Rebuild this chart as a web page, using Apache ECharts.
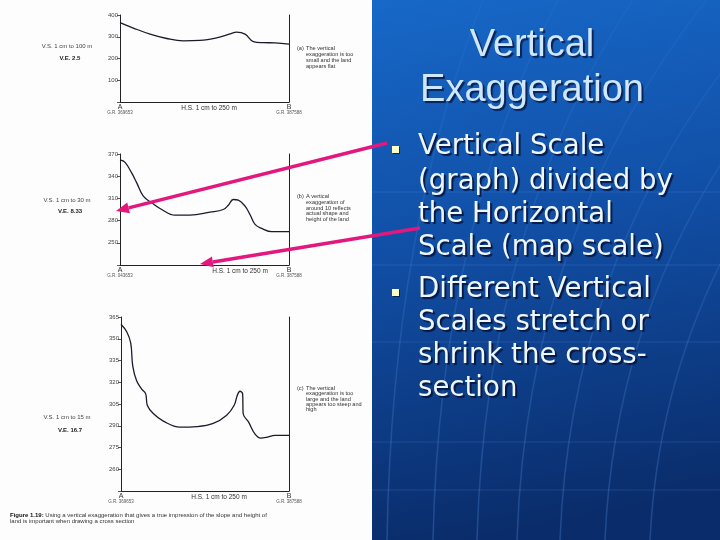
<!DOCTYPE html>
<html><head><meta charset="utf-8">
<script src="https://cdn.jsdelivr.net/npm/echarts@6/dist/echarts.min.js"></script>
<style>html,body{margin:0;padding:0;background:#fff}#c{width:720px;height:540px}</style>
</head><body><div id="c"></div>
<script>
// ---- data (distance A->B in % ; height in m) ----
const distA = [0, 7.9, 17.8, 27.6, 37.5, 47.3, 57.2, 65.1, 69, 74, 78.9, 84.8, 91.7, 100];
const heightA = [365, 340, 312, 292, 281, 283, 295, 313, 321, 312, 278, 273, 272, 266];
const distB = [0, 3, 6.9, 9.9, 13.8, 18.8, 24.7, 32.5, 41.4, 53.3, 61.1, 64.1, 67, 70, 74, 76.9, 79.9, 83.8, 89.8, 100];
const heightB = [362, 358.7, 344.4, 331, 313, 304, 295, 287.4, 287.4, 291.4, 295, 300.8, 308.5, 307.6, 299.5, 288.3, 274.8, 269.5, 265, 265];
const distC = [0, 3.4, 5.8, 7, 9.3, 12.3, 14.7, 15.7, 19.2, 25.2, 35.1, 45.1, 54.9, 62.9, 67.3, 69.2, 70.8, 72.4, 72.7, 75.8, 79.8, 83.2, 86.7, 91.7, 100];
const heightC = [360, 354.8, 347, 331.1, 321, 315.3, 312, 304, 298.4, 293.2, 289, 289.4, 291.6, 297.3, 304, 310.8, 313.8, 312, 298.4, 292.8, 284.2, 281.5, 282, 283.3, 283.3];
const ticksA = [0, 400, 100];   // min, max, interval
const ticksB = [220, 370, 30];
const ticksC = [245, 365, 15];
const vScales = ['V.S. 1 cm to 100 m', 'V.S. 1 cm to 30 m', 'V.S. 1 cm to 15 m'];
const vExag = ['V.E. 2.5', 'V.E. 8.33', 'V.E. 16.7'];
const hScale = 'H.S. 1 cm to 250 m';
const notes = [
  ['(a)', 'The vertical\nexaggeration is too\nsmall and the land\nappears flat'],
  ['(b)', 'A vertical\nexaggeration of\naround 10 reflects\nactual shape and\nheight of the land'],
  ['(c)', 'The vertical\nexaggeration is too\nlarge and the land\nappears too steep and\nhigh']
];
const gridRefs = [['G.R. 369653', 'G.R. 387588'], ['G.R. 043653', 'G.R. 387588'], ['G.R. 369653', 'G.R. 387588']];
const titleLines = ['Vertical', 'Exaggeration'];
const bullet1 = ['Vertical Scale', '(graph) divided by', 'the Horizontal', 'Scale (map scale)'];
const bullet2 = ['Different Vertical', 'Scales stretch or', 'shrink the cross-', 'section'];
const caption1 = 'Using a vertical exaggeration that gives a true impression of the slope and height of';
const caption2 = 'land is important when drawing a cross section';

// ---- layout ----
const grids = [
  {left: 120, top: 15, width: 169, height: 87},
  {left: 120, top: 154, width: 169, height: 111},
  {left: 121, top: 317, width: 168, height: 174}
];
const ticks = [ticksA, ticksB, ticksC];
const series = [[distA, heightA], [distB, heightB], [distC, heightC]];
const axisCol = '#222';
const labelFont = 'Liberation Sans';

const xAxes = [], yAxes = [], ser = [];
grids.forEach((g, i) => {
  xAxes.push({type: 'value', gridIndex: i, min: 0, max: 100,
    axisLine: {show: true, onZero: false, lineStyle: {color: axisCol, width: 1}},
    axisTick: {show: false}, axisLabel: {show: false}, splitLine: {show: false}});
  const [mn, mx, iv] = ticks[i];
  yAxes.push({type: 'value', gridIndex: i, min: mn, max: mx, interval: iv, position: 'left',
    axisLine: {show: true, lineStyle: {color: axisCol, width: 1}},
    axisTick: {show: true, inside: false, length: 3, lineStyle: {color: '#555'}},
    axisLabel: {fontSize: 6, color: '#444', margin: 2, fontFamily: labelFont,
      formatter: v => (v === mn ? '' : String(v))},
    splitLine: {show: false}});
  yAxes.push({type: 'value', gridIndex: i, min: mn, max: mx, position: 'right',
    axisLine: {show: true, lineStyle: {color: axisCol, width: 1}},
    axisTick: {show: false}, axisLabel: {show: false}, splitLine: {show: false}});
  const [xs, ys] = series[i];
  ser.push({type: 'line', xAxisIndex: i, yAxisIndex: i * 2, showSymbol: false,
    smooth: 0.4,
    lineStyle: {color: '#1b1b2b', width: 1.3},
    data: xs.map((x, k) => [x, ys[k]])});
});

// ---- graphics (text, panel, arrows) ----
const G = [];
const small = (txt, x, y, size, opts = {}) => G.push({type: 'text', z: 10, style: {
  text: txt, x, y, font: `${opts.bold ? 'bold ' : ''}${size}px "${labelFont}"`, fill: opts.fill || '#333',
  align: opts.align || 'left', verticalAlign: opts.va || 'middle', lineHeight: opts.lh || size}});

const vsY = [[46, 58], [200, 211], [417, 430]];
const noteY = [46, 194, 386];
const noteLH = [5.8, 5.6, 5.2];
const axisBottom = grids.map(g => g.top + g.height);
const hsX = [209, 240, 219];
grids.forEach((g, i) => {
  small(vScales[i], 67, vsY[i][0], 6, {align: 'center', fill: '#444'});
  small(vExag[i], 70, vsY[i][1], 6, {align: 'center', bold: true, fill: '#222'});
  small(notes[i][0], 297, noteY[i], 5.6, {va: 'top', fill: '#333'});
  small(notes[i][1], 306, noteY[i], 5.6, {va: 'top', fill: '#333', lh: noteLH[i]});
  const b = axisBottom[i];
  small('A', g.left, b + 5, 7, {align: 'center', fill: '#333'});
  small('B', g.left + g.width, b + 5, 7, {align: 'center', fill: '#333'});
  small(gridRefs[i][0], g.left, b + 11, 4.5, {align: 'center', fill: '#555'});
  small(gridRefs[i][1], g.left + g.width, b + 11, 4.5, {align: 'center', fill: '#555'});
  small(hScale, hsX[i], b + 6, 6.5, {align: 'center', fill: '#333'});
});
// caption
G.push({type: 'text', z: 10, style: {x: 10, y: 512, text: '{b|Figure 1.19:} ' + caption1 + '\n' + caption2,
  font: `6px "${labelFont}"`, fill: '#333', lineHeight: 6.5, verticalAlign: 'top',
  rich: {b: {fontWeight: 'bold', fontSize: 6, fontFamily: labelFont, fill: '#111'}}}});

// right blue panel
G.push({type: 'rect', z: 1, shape: {x: 372, y: 0, width: 348, height: 540},
  style: {fill: new echarts.graphic.LinearGradient(0, 0, 0.3, 1, [
    {offset: 0, color: '#1768c8'}, {offset: 0.45, color: '#114fa6'}, {offset: 1, color: '#0a2c6a'}])}});
// faint globe lines
[192, 265, 342, 442, 490].forEach(y => G.push({type: 'line', z: 2, shape: {x1: 372, y1: y, x2: 720, y2: y},
  style: {stroke: 'rgba(110,170,255,0.18)', lineWidth: 1.2}}));
[[387, 500], [433, 580], [477, 660], [517, 740], [560, 820], [605, 900], [650, 980]].forEach(([xb, xt]) =>
  G.push({type: 'bezierCurve', z: 2, shape: {x1: xb, y1: 540, x2: xt, y2: -40, cpx1: xb + (xt - xb) * 0.05, cpy1: 200},
    style: {stroke: new echarts.graphic.LinearGradient(0, 0, 0, 1, [
      {offset: 0, color: 'rgba(110,170,255,0.04)'}, {offset: 1, color: 'rgba(110,170,255,0.24)'}]), lineWidth: 1.5, fill: null}}));

// title
const titleStyle = (txt, y) => ({type: 'text', z: 12, style: {text: txt, x: 532, y, align: 'center', verticalAlign: 'middle',
  font: '38px "Liberation Sans"', fill: '#cfe7ff', textShadowColor: 'rgba(5,20,60,0.8)', textShadowOffsetX: 2, textShadowOffsetY: 2, textShadowBlur: 1}});
G.push(titleStyle(titleLines[0], 46));
G.push(titleStyle(titleLines[1], 91));
// bullets
const lineY1 = [147, 182, 215, 248];
const lineY2 = [290, 323, 356, 389];
const bulletText = (txt, y) => G.push({type: 'text', z: 12, style: {text: txt, x: 418, y, verticalAlign: 'middle',
  font: '27.6px "DejaVu Sans"', fill: '#eef6ff', textShadowColor: 'rgba(5,15,50,0.85)', textShadowOffsetX: 2, textShadowOffsetY: 2, textShadowBlur: 1}});
bullet1.forEach((t, k) => bulletText(t, lineY1[k]));
bullet2.forEach((t, k) => bulletText(t, lineY2[k]));
[146, 289].forEach(y => G.push({type: 'rect', z: 12, shape: {x: 392, y: y, width: 7, height: 7},
  style: {fill: '#ffffc8', shadowColor: 'rgba(0,0,0,0.5)', shadowOffsetX: 1, shadowOffsetY: 1}}));

// magenta arrows
const arrow = (x1, y1, x2, y2) => {
  const ang = Math.atan2(y2 - y1, x2 - x1), L = 13, W = 5.5;
  const bx = x2 - L * Math.cos(ang), by = y2 - L * Math.sin(ang);
  const px = -Math.sin(ang) * W, py = Math.cos(ang) * W;
  G.push({type: 'line', z: 20, shape: {x1, y1, x2: bx, y2: by}, style: {stroke: '#e2187e', lineWidth: 3.5}});
  G.push({type: 'polygon', z: 20, shape: {points: [[x2, y2], [bx + px, by + py], [bx - px, by - py]]}, style: {fill: '#e2187e'}});
};
arrow(387, 143, 116, 211);
arrow(420, 228, 200, 264);

const chart = echarts.init(document.getElementById('c'), null, {renderer: 'canvas'});
chart.setOption({
  backgroundColor: '#fdfdfd',
  animation: false,
  grid: grids.map(g => Object.assign({containLabel: false}, g)),
  xAxis: xAxes, yAxis: yAxes, series: ser, graphic: G
});
</script></body></html>
